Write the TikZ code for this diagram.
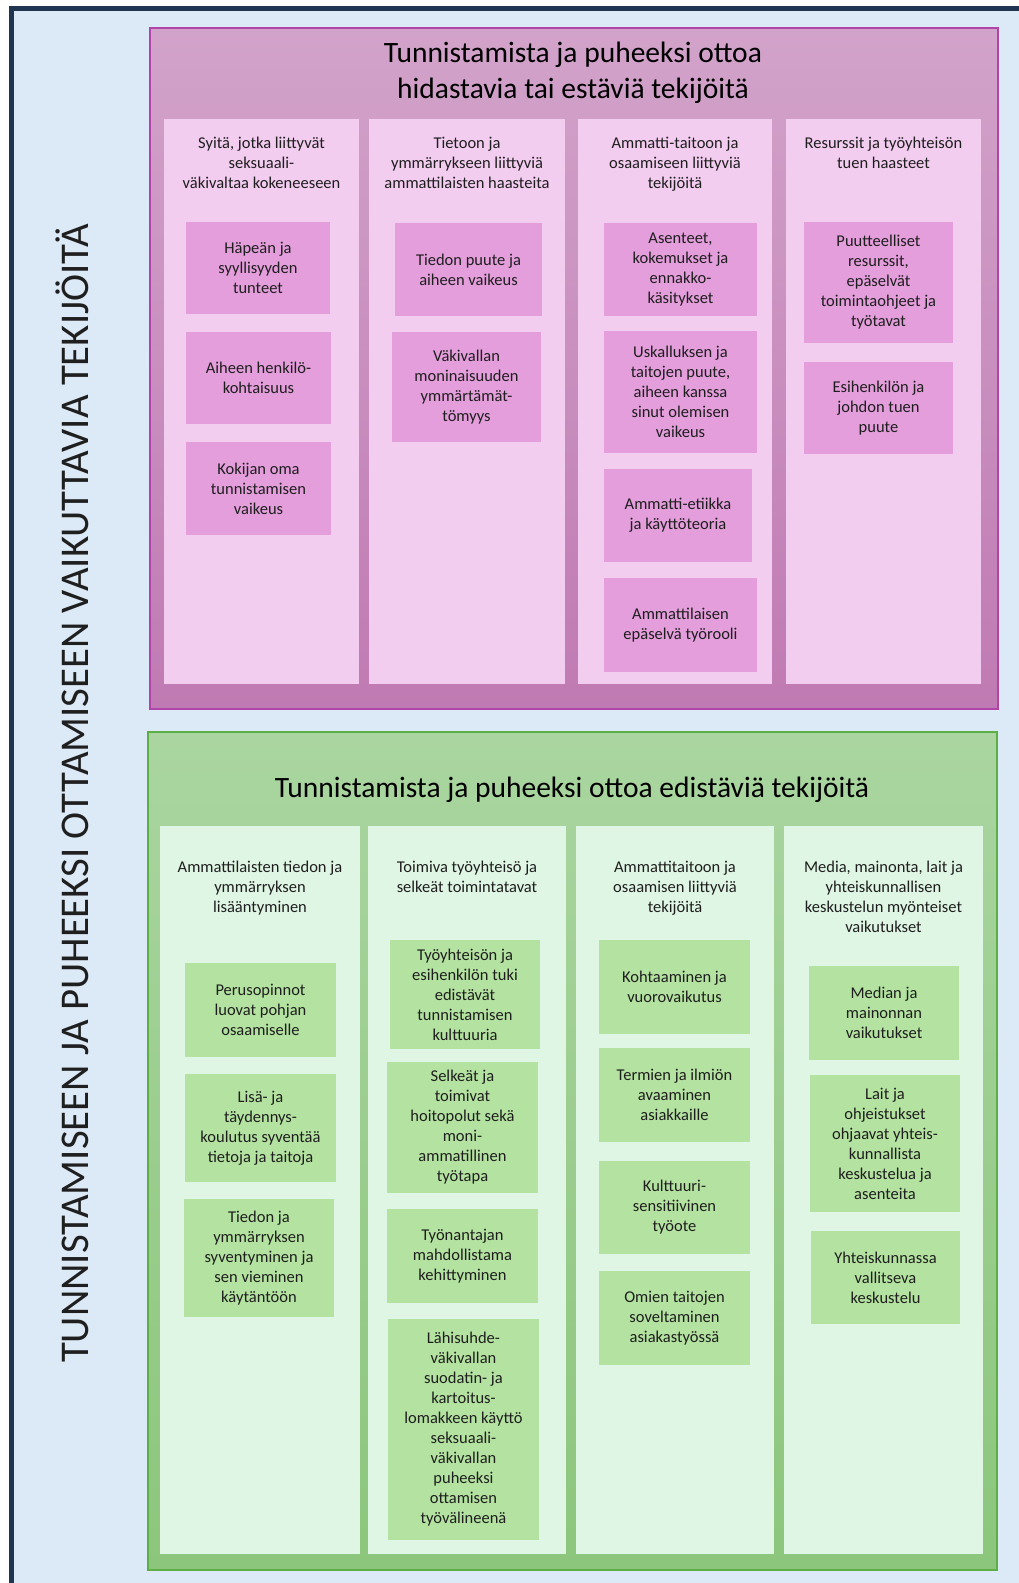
\documentclass[tikz,border=0pt]{standalone}
\usepackage{fontspec}
\setmainfont{Carlito}
\definecolor{framedark}{HTML}{1F3550}
\definecolor{pagebg}{HTML}{DCE9F6}
\definecolor{pinkline}{HTML}{B044A8}
\definecolor{pinktop}{HTML}{D2A3CA}
\definecolor{pinkbot}{HTML}{C07AB3}
\definecolor{pinkcol}{HTML}{F3CDF0}
\definecolor{pinkitem}{HTML}{E39EDB}
\definecolor{greenline}{HTML}{5DAF45}
\definecolor{greentop}{HTML}{AAD5A0}
\definecolor{greenbot}{HTML}{8CC67C}
\definecolor{greencol}{HTML}{E0F6E4}
\definecolor{greenitem}{HTML}{B4E2A0}
\definecolor{inktext}{HTML}{1E1E1E}
% one rectangle node given by its corners: name, style, x1, y1, x2, y2, text
\newcommand{\cornerbox}[7]{%
  \node[#2, anchor=north west, minimum width={(#5-#3)*1pt},
        minimum height={(#6-#4)*1pt}] (#1) at (#3,#4) {#7};}
\begin{document}
\begin{tikzpicture}[x=1pt,y=-1pt,
  box/.style={rectangle, inner sep=0pt, outer sep=0pt, align=center,
              text=inktext, font=\fontsize{16.5}{20}\selectfont},
  pinkframe/.style={box, draw=pinkline, line width=1.4pt,
              top color=pinktop, bottom color=pinkbot},
  greenframe/.style={box, draw=greenline, line width=1.4pt,
              top color=greentop, bottom color=greenbot},
  pinkcolumn/.style={box, fill=pinkcol},
  greencolumn/.style={box, fill=greencol},
  pinkbox/.style={box, fill=pinkitem},
  greenbox/.style={box, fill=greenitem},
  title/.style={align=center, inner sep=0pt, text=black,
              font=\fontsize{29.5}{36}\selectfont},
  colhead/.style={anchor=north, align=center, inner sep=0pt, text=inktext,
              font=\fontsize{16.5}{20}\selectfont},
  sidetitle/.style={rotate=90, anchor=base, inner sep=0pt, text=black!88,
              font=\fontsize{40.8}{48}\selectfont}]

\useasboundingbox (0,0) rectangle (1019,1583);
\fill[white] (0,0) rectangle (1019,1583);
% outer frame, open to the right and bottom
\fill[framedark] (9,6) rectangle (1019,1583);
\fill[pagebg] (14,11) rectangle (1019,1583);

\node[sidetitle] (side) at (88,793.5)
  {TUNNISTAMISEEN JA PUHEEKSI OTTAMISEEN VAIKUTTAVIA TEKIJÖITÄ};

% ---------- hindering factors ----------
\cornerbox{hinder}{pinkframe}{150}{28}{998}{709}{}
\node[title] (hindertitle) at (573,73)
  {Tunnistamista ja puheeksi ottoa\\hidastavia tai estäviä tekijöitä};

\cornerbox{hc1}{pinkcolumn}{164}{119}{359}{684}{}
\cornerbox{hc2}{pinkcolumn}{369}{119}{565}{684}{}
\cornerbox{hc3}{pinkcolumn}{578}{119}{772}{684}{}
\cornerbox{hc4}{pinkcolumn}{786}{119}{981}{684}{}

\node[colhead] (hh1) at (261.5,137) {Syitä, jotka liittyvät\\seksuaali-\\väkivaltaa kokeneeseen};
\node[colhead] (hh2) at (467,137) {Tietoon ja\\ymmärrykseen liittyviä\\ammattilaisten haasteita};
\node[colhead] (hh3) at (675,137) {Ammatti-taitoon ja\\osaamiseen liittyviä\\tekijöitä};
\node[colhead] (hh4) at (883.5,137) {Resurssit ja työyhteisön\\tuen haasteet};

\cornerbox{h1a}{pinkbox}{186}{222}{330}{314}{Häpeän ja\\syyllisyyden\\tunteet}
\cornerbox{h1b}{pinkbox}{186}{332}{331}{424}{Aiheen henkilö-\\kohtaisuus}
\cornerbox{h1c}{pinkbox}{186}{442}{331}{535}{Kokijan oma\\tunnistamisen\\vaikeus}

\cornerbox{h2a}{pinkbox}{395}{223}{542}{316}{Tiedon puute ja\\aiheen vaikeus}
\cornerbox{h2b}{pinkbox}{392}{332}{541}{442}{Väkivallan\\moninaisuuden\\ymmärtämät-\\tömyys}

\cornerbox{h3a}{pinkbox}{604}{223}{757}{316}{Asenteet,\\kokemukset ja\\ennakko-\\käsitykset}
\cornerbox{h3b}{pinkbox}{604}{331}{757}{453}{Uskalluksen ja\\taitojen puute,\\aiheen kanssa\\sinut olemisen\\vaikeus}
\cornerbox{h3c}{pinkbox}{604}{469}{752}{562}{Ammatti-etiikka\\ja käyttöteoria}
\cornerbox{h3d}{pinkbox}{604}{578}{757}{672}{Ammattilaisen\\epäselvä työrooli}

\cornerbox{h4a}{pinkbox}{804}{222}{953}{343}{Puutteelliset\\resurssit,\\epäselvät\\toimintaohjeet ja\\työtavat}
\cornerbox{h4b}{pinkbox}{804}{362}{953}{454}{Esihenkilön ja\\johdon tuen\\puute}

% ---------- promoting factors ----------
\cornerbox{promo}{greenframe}{148}{732}{997}{1570}{}
\node[title] (promotitle) at (572,790)
  {Tunnistamista ja puheeksi ottoa edistäviä tekijöitä};

\cornerbox{gc1}{greencolumn}{160}{826}{360}{1554}{}
\cornerbox{gc2}{greencolumn}{368}{826}{566}{1554}{}
\cornerbox{gc3}{greencolumn}{576}{826}{774}{1554}{}
\cornerbox{gc4}{greencolumn}{784}{826}{983}{1554}{}

\node[colhead] (gh1) at (260,861) {Ammattilaisten tiedon ja\\ymmärryksen\\lisääntyminen};
\node[colhead] (gh2) at (467,861) {Toimiva työyhteisö ja\\selkeät toimintatavat};
\node[colhead] (gh3) at (675,861) {Ammattitaitoon ja\\osaamisen liittyviä\\tekijöitä};
\node[colhead] (gh4) at (883.5,861) {Media, mainonta, lait ja\\yhteiskunnallisen\\keskustelun myönteiset\\vaikutukset};

\cornerbox{g1a}{greenbox}{185}{963}{336}{1057}{Perusopinnot\\luovat pohjan\\osaamiselle}
\cornerbox{g1b}{greenbox}{185}{1074}{336}{1182}{Lisä- ja\\täydennys-\\koulutus syventää\\tietoja ja taitoja}
\cornerbox{g1c}{greenbox}{184}{1199}{334}{1317}{Tiedon ja\\ymmärryksen\\syventyminen ja\\sen vieminen\\käytäntöön}

\cornerbox{g2a}{greenbox}{390}{940}{540}{1049}{Työyhteisön ja\\esihenkilön tuki\\edistävät\\tunnistamisen\\kulttuuria}
\cornerbox{g2b}{greenbox}{387}{1062}{538}{1193}{Selkeät ja\\toimivat\\hoitopolut sekä\\moni-\\ammatillinen\\työtapa}
\cornerbox{g2c}{greenbox}{387}{1209}{538}{1303}{Työnantajan\\mahdollistama\\kehittyminen}
\cornerbox{g2d}{greenbox}{388}{1319}{539}{1540}{Lähisuhde-\\väkivallan\\suodatin- ja\\kartoitus-\\lomakkeen käyttö\\seksuaali-\\väkivallan\\puheeksi\\ottamisen\\työvälineenä}

\cornerbox{g3a}{greenbox}{599}{940}{750}{1034}{Kohtaaminen ja\\vuorovaikutus}
\cornerbox{g3b}{greenbox}{599}{1048}{750}{1142}{Termien ja ilmiön\\avaaminen\\asiakkaille}
\cornerbox{g3c}{greenbox}{599}{1161}{750}{1254}{Kulttuuri-\\sensitiivinen\\työote}
\cornerbox{g3d}{greenbox}{599}{1271}{750}{1365}{Omien taitojen\\soveltaminen\\asiakastyössä}

\cornerbox{g4a}{greenbox}{809}{966}{959}{1060}{Median ja\\mainonnan\\vaikutukset}
\cornerbox{g4b}{greenbox}{810}{1075}{960}{1212}{Lait ja\\ohjeistukset\\ohjaavat yhteis-\\kunnallista\\keskustelua ja\\asenteita}
\cornerbox{g4c}{greenbox}{811}{1231}{960}{1324}{Yhteiskunnassa\\vallitseva\\keskustelu}

\end{tikzpicture}
\end{document}
